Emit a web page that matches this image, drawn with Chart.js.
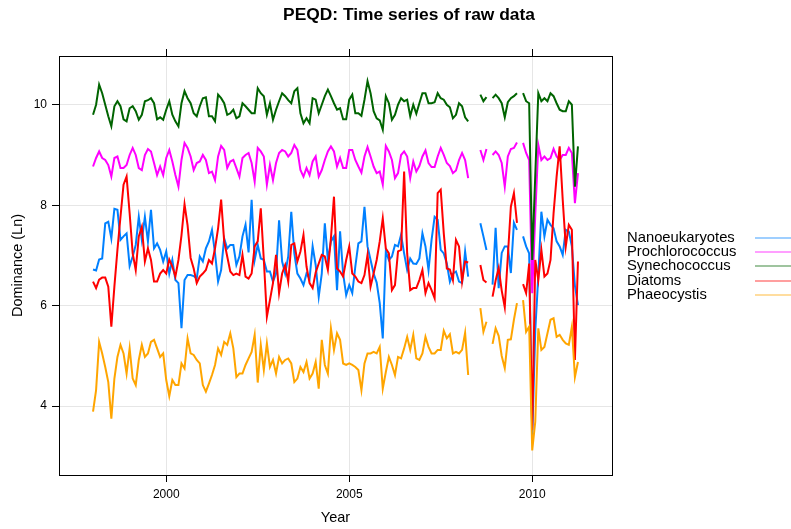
<!DOCTYPE html>
<html>
<head>
<meta charset="utf-8">
<title>PEQD: Time series of raw data</title>
<script src="https://cdn.jsdelivr.net/npm/chart.js@4.4.1/dist/chart.umd.min.js"></script>
<style>
    html, body { margin: 0; padding: 0; background: #ffffff; }
    #wrap { width: 791px; height: 529px; }
</style>
</head>
<body>
<div id="wrap"><canvas id="peqdChart" width="791" height="529"></canvas></div>
<script>
// Monthly samples, January 1998 to April 2011 (null = month not sampled)
const startYear = 1998;

const nanoeukaryotes = [
    6.72, 6.70, 6.92, 6.94, 7.64, 7.67, 7.34, 7.93, 7.91, 7.31, 7.38, 7.44, 6.79, 6.98, 7.21, 7.77, 7.31, 7.77, 7.28, 7.91, 7.14, 7.24, 7.11,
    6.88, 7.08, 6.64, 6.91, 6.51, 6.45, 5.55, 6.51, 6.61, 6.61, 6.59, 6.54, 6.98, 6.88, 7.14, 7.28, 7.51, 7.04, 6.48, 6.71, 7.34, 7.14, 7.21,
    7.21, 6.81, 6.98, 7.38, 7.61, 7.06, 8.11, 6.91, 7.21, 6.94, 6.91, 6.68, 6.68, 6.48, 6.64, 7.70, 6.88, 6.64, 6.98, 7.87, 7.04, 6.64, 6.54,
    6.41, 6.64, 6.54, 7.18, 6.81, 6.18, 6.64, 7.64, 6.91, 7.28, 7.38, 6.31, 7.48, 6.64, 6.21, 6.41, 6.25, 6.78, 7.24, 7.28, 7.97, 7.18,
    6.91, 6.64, 6.46, 6.05, 5.35, 7.08, 6.91, 6.98, 7.21, 7.18, 7.41, 7.04, 6.71, 6.94, 6.84, 6.83, 6.94, 7.44, 7.18, 6.71, 7.31, 7.77, 7.71,
    7.11, 7.04, 6.84, 6.48, 6.64, 6.68, 6.48, 6.45, 7.08, 6.58,
    null, null, null,
    7.64, 7.38, 7.11,
    null,
    6.42, 7.55, 6.35, 7.05, 7.18, 7.18, 6.65, 7.65, 7.51,
    null,
    7.38, 7.18, 7.04, 3.40, 5.50, 6.60, 7.87, 7.38, 7.71, 7.61, 7.54, 7.28, 7.18, 7.01, 7.51, 7.48, 7.18, 6.40, 6.01
];

const prochlorococcus = [
    8.77, 8.94, 9.07, 8.94, 8.90, 8.80, 8.57, 8.94, 8.97, 8.74, 8.74, 8.80, 9.00, 9.14, 9.00, 8.74, 8.70, 9.00, 9.12, 9.07, 8.84, 8.60, 8.77,
    8.60, 8.94, 9.10, 8.87, 8.60, 8.37, 8.90, 9.24, 9.14, 8.97, 8.70, 8.84, 8.87, 9.00, 8.90, 8.64, 8.67, 8.50, 8.97, 9.18, 9.10, 8.74, 8.87,
    8.90, 8.74, 8.57, 8.94, 9.00, 9.04, 8.84, 8.47, 9.14, 9.07, 8.97, 8.41, 8.80, 8.50, 8.84, 9.04, 9.10, 9.07, 8.97, 9.04, 9.20, 9.10, 8.70,
    8.57, 8.74, 8.60, 8.87, 8.97, 8.57, 8.70, 8.90, 9.07, 9.17, 9.07, 8.77, 8.94, 8.74, 8.74, 9.10, 9.10, 8.90, 8.77, 8.65, 8.97, 9.16,
    8.97, 8.77, 8.64, 8.67, 8.41, 9.18, 9.07, 8.90, 8.54, 8.64, 9.00, 9.07, 8.97, 8.54, 8.87, 8.67, 8.78, 8.97, 9.09, 8.84, 8.76, 8.76, 8.97,
    9.14, 9.00, 8.84, 8.78, 8.64, 8.69, 8.90, 9.04, 8.90, 8.54,
    null, null, null,
    9.10, 8.90, 9.12,
    null,
    9.00, 9.07, 9.00, 8.84, 8.37, 8.97, 9.12, 9.14, 9.25,
    null,
    9.24, 9.04, 8.90, 6.25, 7.80, 9.20, 8.90, 8.97, 8.90, 8.94, 9.12, 8.97, 8.90, 9.00, 9.00, 9.14, 9.04, 8.04, 8.64
];

const synechococcus = [
    9.80, 10.00, 10.40, 10.23, 10.00, 9.77, 9.57, 9.97, 10.07, 9.97, 9.71, 9.67, 9.93, 9.97, 9.87, 9.70, 9.80, 10.07, 10.09, 10.13, 10.03, 9.71, 9.75,
    9.70, 9.90, 10.07, 9.80, 9.67, 9.57, 10.03, 10.27, 10.13, 10.03, 9.83, 9.77, 9.97, 10.13, 10.15, 9.77, 9.77, 9.67, 10.20, 10.13, 10.03, 9.80, 9.83,
    9.90, 9.73, 9.77, 10.03, 9.97, 9.90, 9.83, 9.83, 10.33, 10.23, 10.17, 9.80, 10.03, 9.70, 9.90, 10.07, 10.23, 10.17, 10.09, 10.03, 10.27, 10.33, 9.83,
    9.63, 9.73, 9.63, 10.13, 10.10, 9.83, 10.00, 10.17, 10.30, 10.17, 10.03, 9.90, 9.93, 9.71, 9.71, 10.10, 10.20, 9.83, 9.83, 9.78, 10.10, 10.47,
    10.23, 9.87, 9.73, 9.69, 9.50, 10.17, 10.03, 9.70, 9.80, 10.00, 10.13, 10.07, 10.10, 9.77, 10.00, 9.82, 10.03, 10.23, 10.23, 10.03, 10.03, 10.05, 10.23,
    10.13, 10.10, 10.00, 9.95, 9.73, 9.80, 10.03, 9.97, 9.75, 9.67,
    null, null, null,
    10.20, 10.07, 10.15,
    null,
    10.13, 10.20, 10.13, 10.03, 9.75, 10.05, 10.13, 10.17, 10.23,
    null,
    10.23, 10.07, 10.03, 6.91, 8.60, 10.23, 10.07, 10.13, 10.07, 10.23, 10.17, 10.03, 9.90, 9.87, 9.87, 10.07, 10.00, 8.37, 9.17
];

const diatoms = [
    6.48, 6.35, 6.52, 6.56, 6.56, 6.38, 5.58, 6.38, 7.11, 7.77, 8.41, 8.57, 7.84, 7.04, 6.71, 7.38, 7.57, 6.88, 7.14, 6.91, 6.48, 6.48, 6.64,
    6.71, 6.64, 6.92, 6.78, 6.58, 6.91, 7.40, 8.02, 7.60, 6.95, 6.74, 6.45, 6.58, 6.64, 6.71, 6.91, 6.84, 7.14, 7.54, 8.11, 7.28, 6.98, 6.68,
    6.61, 6.64, 6.61, 7.01, 6.58, 6.54, 6.64, 7.18, 7.28, 7.94, 6.91, 5.78, 6.11, 6.45, 7.01, 6.25, 6.64, 6.81, 6.48, 7.21, 7.24, 6.88, 7.08,
    7.41, 6.78, 6.45, 6.35, 6.66, 6.84, 7.01, 6.98, 6.71, 7.34, 8.17, 6.74, 6.68, 6.58, 6.91, 7.18, 6.64, 6.58, 6.48, 6.45, 6.61, 7.01,
    6.38, 6.64, 6.91, 7.28, 7.74, 7.14, 7.04, 6.31, 6.41, 7.08, 7.11, 8.67, 7.04, 6.31, 6.35, 6.35, 6.51, 6.71, 6.25, 6.45, 6.31, 6.15, 8.24,
    8.31, 7.44, 6.74, 6.72, 6.51, 7.31, 7.18, 6.48, 6.88, 6.86,
    null, null, null,
    6.81, 6.51, 6.46,
    null,
    6.18, 6.50, 6.75, 6.30, 5.97, 6.98, 7.97, 8.24, 7.65,
    null,
    6.43, 6.25, 6.84, 3.52, 6.91, 6.51, 7.11, 6.58, 6.64, 6.91, 7.84, 8.57, 9.17, 8.11, 7.18, 7.61, 7.51, 4.92, 6.88
];

const phaeocystis = [
    3.89, 4.32, 5.28, 5.05, 4.78, 4.48, 3.75, 4.55, 4.98, 5.22, 5.05, 4.65, 5.15, 4.55, 4.42, 4.92, 5.22, 4.98, 5.05, 5.28, 5.32, 5.15, 4.98,
    5.05, 4.52, 4.20, 4.52, 4.42, 4.42, 4.85, 4.75, 5.35, 5.05, 5.02, 4.92, 4.85, 4.42, 4.29, 4.45, 4.62, 4.82, 5.15, 5.02, 5.28, 5.22, 5.45,
    5.15, 4.58, 4.65, 4.65, 4.82, 4.95, 5.08, 5.42, 4.47, 5.22, 4.72, 5.25, 4.78, 4.92, 4.65, 4.98, 4.85, 4.92, 4.95, 4.85, 4.48, 4.55, 4.78,
    4.68, 4.88, 4.55, 4.65, 4.88, 4.35, 5.32, 4.82, 4.65, 5.55, 5.12, 5.45, 5.32, 4.85, 4.82, 4.85, 4.82, 4.78, 4.72, 4.32, 4.85, 5.05,
    5.05, 5.08, 5.05, 5.18, 4.35, 4.68, 4.98, 4.82, 4.62, 4.98, 4.95, 5.15, 5.38, 5.12, 5.42, 4.95, 4.92, 5.05, 5.38, 5.18, 5.05, 5.05, 5.12,
    5.12, 5.50, 5.35, 5.43, 5.05, 5.08, 5.05, 5.12, 5.46, 4.62,
    null, null, null,
    5.95, 5.48, 5.68,
    null,
    5.24, 5.55, 5.40, 5.00, 4.76, 5.32, 5.33, 5.72, 6.05,
    null,
    6.11, 5.48, 5.58, 3.12, 3.69, 5.55, 5.12, 5.18, 5.45, 5.72, 5.75, 5.38, 5.42, 5.32, 5.25, 5.22, 5.58, 4.58, 4.88
];

const seriesNames = ['Nanoeukaryotes', 'Prochlorococcus', 'Synechococcus', 'Diatoms', 'Phaeocystis'];
const seriesColors = ['#0080ff', '#ff00ff', '#006400', '#ff0000', '#ffa500'];
const xTicks = [2000, 2005, 2010];
const yTicks = [4, 6, 8, 10];

const chartTitle = 'PEQD: Time series of raw data';
const FONT = '"Liberation Sans", Arial, Helvetica, sans-serif';

/**
 * Convierte una serie mensual en puntos {x: año decimal, y: valor}
 */
function toPoints(values) {
    return values.map((v, i) => ({ x: startYear + i / 12, y: v }));
}

/**
 * Título y leyenda al estilo lattice (texto a la izquierda, línea a la derecha)
 */
const titleAndKey = {
    id: 'titleAndKey',
    afterDraw(chart) {
        const ctx = chart.ctx;
        ctx.save();
        ctx.fillStyle = '#000';
        ctx.textBaseline = 'middle';

        ctx.font = 'bold 17.4px ' + FONT;
        ctx.textAlign = 'center';
        ctx.fillText(chartTitle, 409, 15.5);

        ctx.font = '14.8px ' + FONT;
        ctx.textAlign = 'left';
        seriesNames.forEach((name, i) => {
            const y = Math.round(237.5 + i * 14.4);
            ctx.fillStyle = '#000';
            ctx.fillText(name, 627, y);
            // línea fina sin alinear al píxel, como el antialiasing del original
            ctx.strokeStyle = seriesColors[i];
            ctx.globalAlpha = 0.75;
            ctx.lineWidth = 1.2;
            ctx.beginPath();
            ctx.moveTo(755, y);
            ctx.lineTo(791, y);
            ctx.stroke();
            ctx.globalAlpha = 1;
        });
        ctx.restore();
    }
};

const seriesValues = [nanoeukaryotes, prochlorococcus, synechococcus, diatoms, phaeocystis];

const ctx = document.getElementById('peqdChart').getContext('2d');
const peqdChart = new Chart(ctx, {
    type: 'line',
    data: {
        datasets: seriesValues.map((values, i) => ({
            label: seriesNames[i],
            data: toPoints(values),
            borderColor: seriesColors[i],
            backgroundColor: seriesColors[i],
            borderWidth: 2,
            pointRadius: 0,
            tension: 0,
            spanGaps: false,
            fill: false,
            order: seriesNames.length - i
        }))
    },
    options: {
        responsive: false,
        animation: false,
        devicePixelRatio: 1,
        layout: { padding: 0 },
        plugins: {
            legend: { display: false },
            title: { display: false },
            tooltip: { enabled: false }
        },
        scales: {
            x: {
                type: 'linear',
                position: 'bottom',
                min: 1997.07,
                max: 2012.18,
                afterBuildTicks: (scale) => { scale.ticks = xTicks.map(v => ({ value: v })); },
                afterFit: (scale) => { scale.height = 54; },
                grid: { color: '#e6e6e6', tickColor: '#000', tickLength: 7, lineWidth: 1 },
                border: { display: true, color: '#000', width: 1 },
                ticks: {
                    color: '#000',
                    padding: 5,
                    maxRotation: 0,
                    font: { family: FONT, size: 12 },
                    callback: (v) => String(v)
                },
                title: {
                    display: true,
                    text: 'Year',
                    color: '#000',
                    font: { family: FONT, size: 14.5 },
                    padding: { top: 0, bottom: 2 }
                }
            },
            xTop: {
                type: 'linear',
                position: 'top',
                min: 1997.07,
                max: 2012.18,
                afterBuildTicks: (scale) => { scale.ticks = xTicks.map(v => ({ value: v })); },
                afterFit: (scale) => { scale.height = 56; },
                grid: { drawOnChartArea: false, tickColor: '#000', tickLength: 7 },
                border: { display: true, color: '#000', width: 1 },
                ticks: { display: false }
            },
            y: {
                type: 'linear',
                position: 'left',
                min: 2.63,
                max: 10.97,
                afterBuildTicks: (scale) => { scale.ticks = yTicks.map(v => ({ value: v })); },
                afterFit: (scale) => { scale.width = 59; },
                grid: { color: '#e6e6e6', tickColor: '#000', tickLength: 7, lineWidth: 1 },
                border: { display: true, color: '#000', width: 1 },
                ticks: {
                    color: '#000',
                    padding: 5,
                    font: { family: FONT, size: 12 },
                    callback: (v) => String(v)
                },
                title: {
                    display: true,
                    text: 'Dominance (Ln)',
                    color: '#000',
                    font: { family: FONT, size: 14.5 },
                    padding: { top: 9, bottom: 0 }
                }
            },
            yRight: {
                type: 'linear',
                position: 'right',
                min: 2.63,
                max: 10.97,
                afterFit: (scale) => { scale.width = 179; },
                grid: { drawOnChartArea: false, drawTicks: false },
                border: { display: true, color: '#000', width: 1 },
                ticks: { display: false }
            }
        }
    },
    plugins: [titleAndKey]
});
</script>
</body>
</html>
